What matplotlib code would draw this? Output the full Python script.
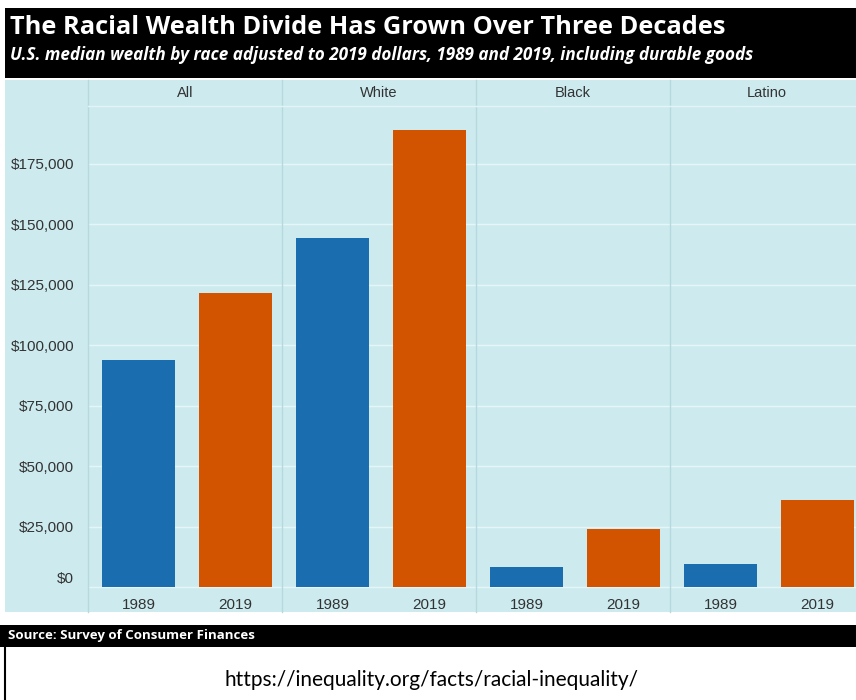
import matplotlib
matplotlib.use("Agg")
import matplotlib.pyplot as plt
from matplotlib.patches import Rectangle
from matplotlib.lines import Line2D
from matplotlib.ticker import FuncFormatter
import matplotlib.transforms as mtransforms

groups = ["All", "White", "Black", "Latino"]
years = ["1989", "2019"]
wealth_1989 = [93800, 144200, 8300, 9500]
wealth_2019 = [121500, 188800, 24000, 36000]
yticks = [0, 25000, 50000, 75000, 100000, 125000, 150000, 175000]

blue = "#1a6eb0"
orange = "#d35400"
bg = "#cdebef"
edge = "#b5d9df"

W, H = 856, 700
fig = plt.figure(figsize=(W / 100, H / 100), dpi=100)
fig.patch.set_facecolor("white")

def fx(px):
    return px / W

def fy(py):
    return 1 - py / H

# header banner
fig.patches.append(Rectangle((fx(5), fy(78)), fx(851), 70 / H, transform=fig.transFigure,
                             facecolor="black", edgecolor="none", zorder=-2))
fig.text(fx(10), fy(27), "The Racial Wealth Divide Has Grown Over Three Decades",
         color="white", fontsize=18.3, fontweight="bold", family="Open Sans", va="center")
fig.text(fx(10), fy(55),
         "U.S. median wealth by race adjusted to 2019 dollars, 1989 and 2019, including durable goods",
         color="white", fontsize=12.3, fontweight="bold", style="italic", family="Open Sans", va="center")

# light blue plot background
fig.patches.append(Rectangle((fx(5), fy(612)), fx(851), 532 / H, transform=fig.transFigure,
                             facecolor=bg, edgecolor="none", zorder=-2))

# panels
px_per_dollar = 60.5 / 25000
zero_px = 587
top_px, bot_px = 108, 592
ymax = (zero_px - top_px) / px_per_dollar
ymin = -(bot_px - zero_px) / px_per_dollar
panel_w = 194
left0 = 88

for i, g in enumerate(groups):
    l = left0 + i * panel_w
    ax = fig.add_axes([fx(l), fy(bot_px), fx(panel_w), (bot_px - top_px) / H])
    ax.set_facecolor(bg)
    ax.bar([0, 1], [wealth_1989[i], wealth_2019[i]], width=0.76, color=[blue, orange], zorder=3)
    ax.set_xlim(-0.52, 1.48)
    ax.set_ylim(ymin, ymax)
    ax.set_yticks(yticks)
    ax.grid(axis="y", color="#e6f6f8", lw=1, zorder=0)
    ax.set_xticks([0, 1])
    ax.set_xticklabels(years, family="Liberation Sans", fontsize=11, color="#333333")
    ax.tick_params(axis="x", length=0, pad=4)
    for s in ax.spines.values():
        s.set_visible(False)
    if i == 0:
        ax.yaxis.set_major_formatter(FuncFormatter(lambda v, p: f"${v:,.0f}"))
        ax.tick_params(axis="y", length=0, pad=10, labelsize=11, labelcolor="#333333")
        for lab in ax.get_yticklabels():
            lab.set_family("Liberation Sans")
        zero_lab = ax.get_yticklabels()[0]
        zero_lab.set_transform(zero_lab.get_transform() +
                               mtransforms.ScaledTranslation(0, 9 / 100, fig.dpi_scale_trans))
    else:
        ax.tick_params(axis="y", length=0, labelleft=False)
    fig.text(fx(l + panel_w / 2), fy(93), g, ha="center", va="center",
             family="Liberation Sans", fontsize=10.5, color="#333333")

# panel separators and strip line
for i in range(5):
    x = fx(left0 + i * panel_w)
    fig.lines.append(Line2D([x, x], [fy(80), fy(612)], transform=fig.transFigure,
                            color=edge, lw=1, zorder=5))
fig.lines.append(Line2D([fx(left0), 1], [fy(106), fy(106)], transform=fig.transFigure,
                        color="#e2f4f6", lw=1, zorder=5))

# source bar
fig.patches.append(Rectangle((0, fy(647)), 1, 22 / H, transform=fig.transFigure,
                             facecolor="black", edgecolor="none", zorder=-2))
fig.text(fx(8), fy(636), "Source: Survey of Consumer Finances", color="white",
         fontsize=9.5, fontweight="bold", family="Open Sans", va="center")
fig.lines.append(Line2D([fx(5), fx(5)], [fy(647), 0], transform=fig.transFigure,
                        color="black", lw=1.5))
fig.text(fx(431), fy(680), "https://inequality.org/facts/racial-inequality/",
         ha="center", va="center", fontsize=15, family="Lato", color="black")

fig.savefig("out.png", dpi=100)
